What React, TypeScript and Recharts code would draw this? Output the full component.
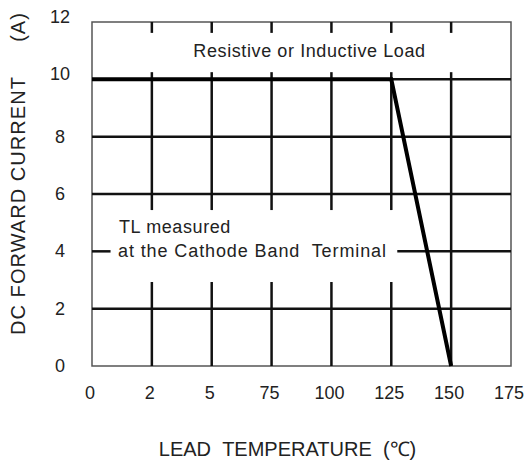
import React from 'react';
import { LineChart, Line, XAxis, YAxis, ReferenceLine, ReferenceArea, Label } from 'recharts';

// lead temperature tick labels (evenly spaced on the printed axis)
const temps = ['0', '2', '5', '75', '100', '125', '150', '175'];
// max DC forward current (A) at each temperature tick
const current: (number | null)[] = [10, 10, 10, 10, 10, 10, 0, null];
const yTicks = [0, 2, 4, 6, 8, 10, 12];

const data = temps.map((t, i) => ({ pos: i, temp: t, current: current[i] }));

const FONT = '"Liberation Sans", Arial, sans-serif';
const TXT = '#222';
const GRID = '#111';

// gap in the vertical grid where the TL note sits
const noteLow = 2.93;
const noteHigh = 5.44;

const YTick = ({ x, y, payload }: any) => (
  <text
    x={x - 30}
    y={payload.value >= 10 ? y - 5 : y}
    textAnchor="middle"
    dominantBaseline="central"
    fontSize={18}
    fill={TXT}
    fontFamily={FONT}
  >
    {payload.value}
  </text>
);

const XTick = ({ x, y, payload }: any) => (
  <text x={x - 2} y={y + 25} textAnchor="middle" dominantBaseline="central" fontSize={18} fill={TXT} fontFamily={FONT}>
    {temps[payload.value]}
  </text>
);

const TlNote = ({ viewBox }: any) => {
  const { x, y, height } = viewBox;
  return (
    <g fontFamily={FONT} fontSize={18} fill={TXT}>
      <text x={x + 27} y={y + 4} dominantBaseline="central" letterSpacing={0.6}>TL measured</text>
      <text x={x + 26} y={y + height} dominantBaseline="central" letterSpacing={0.9} style={{ whiteSpace: 'pre' }}>
        at the Cathode Band  Terminal
      </text>
    </g>
  );
};

const YTitle = () => (
  <g fontSize={20} fill={TXT} fontFamily={FONT}>
    <text
      x={18}
      y={335}
      transform="rotate(-90 18 335)"
      textAnchor="start"
      dominantBaseline="central"
      textLength={258}
      lengthAdjust="spacing"
    >
      DC FORWARD CURRENT
    </text>
    <text
      x={18}
      y={27}
      transform="rotate(-90 18 27)"
      textAnchor="middle"
      dominantBaseline="central"
      letterSpacing={1}
    >
      (A)
    </text>
  </g>
);

export default function App() {
  const vLines = [1, 2, 3, 4, 5, 6];
  return (
    <div style={{ position: 'absolute', left: 0, top: 0, background: '#fff' }}>
      <LineChart width={529} height={466} data={data} margin={{ top: 22, right: 18, left: 0, bottom: 0 }}>
        <XAxis
          type="number"
          dataKey="pos"
          domain={[0, 7]}
          ticks={[0, 1, 2, 3, 4, 5, 6, 7]}
          height={100}
          axisLine={false}
          tickLine={false}
          tickSize={0}
          tick={<XTick />}
        >
          <Label
            position="insideBottom"
            offset={10}
            dx={-14}
            value={'LEAD\u00a0\u00a0TEMPERATURE\u00a0\u00a0(℃)'}
            style={{ fontSize: 20, fill: TXT, fontFamily: FONT }}
          />
        </XAxis>
        <YAxis
          type="number"
          domain={[0, 12]}
          ticks={yTicks}
          width={92}
          axisLine={false}
          tickLine={false}
          tickSize={0}
          tick={<YTick />}
        >
          <Label content={<YTitle />} />
        </YAxis>

        {/* horizontal grid */}
        {[2, 6, 8].map((v) => (
          <ReferenceLine key={'h' + v} y={v} stroke={GRID} strokeWidth={2.5} />
        ))}
        <ReferenceLine segment={[{ x: 0, y: 4 }, { x: 0.31, y: 4 }]} stroke={GRID} strokeWidth={2.5} />
        <ReferenceLine segment={[{ x: 5.1, y: 4 }, { x: 7, y: 4 }]} stroke={GRID} strokeWidth={2.5} />
        <ReferenceLine segment={[{ x: 5, y: 10 }, { x: 7, y: 10 }]} stroke={GRID} strokeWidth={2.5} />

        {/* vertical grid, broken under the notes */}
        {vLines.map((i) => (
          <React.Fragment key={'v' + i}>
            <ReferenceLine segment={[{ x: i, y: 12 }, { x: i, y: 11.62 }]} stroke={GRID} strokeWidth={2.5} />
            <ReferenceLine segment={[{ x: i, y: 10.25 }, { x: i, y: 10 }]} stroke={GRID} strokeWidth={2.5} />
            {i < 6 ? (
              <>
                <ReferenceLine segment={[{ x: i, y: 10 }, { x: i, y: noteHigh }]} stroke={GRID} strokeWidth={2.5} />
                <ReferenceLine segment={[{ x: i, y: noteLow }, { x: i, y: 0 }]} stroke={GRID} strokeWidth={2.5} />
              </>
            ) : (
              <ReferenceLine segment={[{ x: i, y: 10 }, { x: i, y: 0 }]} stroke={GRID} strokeWidth={2.5} />
            )}
          </React.Fragment>
        ))}

        {/* frame */}
        <ReferenceArea x1={0} x2={7} y1={0} y2={12} fill="none" stroke="#555" strokeWidth={1.5} />

        <ReferenceArea
          x1={0}
          x2={7}
          y1={10}
          y2={12}
          fill="none"
          stroke="none"
          label={{ value: 'Resistive or Inductive Load', position: 'center', dx: 8, style: { fontSize: 18, fill: TXT, fontFamily: FONT, letterSpacing: 0.6 } } as any}
        />
        <ReferenceArea x1={0} x2={5} y1={4} y2={5} fill="none" stroke="none" label={<TlNote />} />

        <Line
          type="linear"
          dataKey="current"
          stroke="#000"
          strokeWidth={4}
          dot={false}
          activeDot={false}
          isAnimationActive={false}
        />
      </LineChart>
    </div>
  );
}
